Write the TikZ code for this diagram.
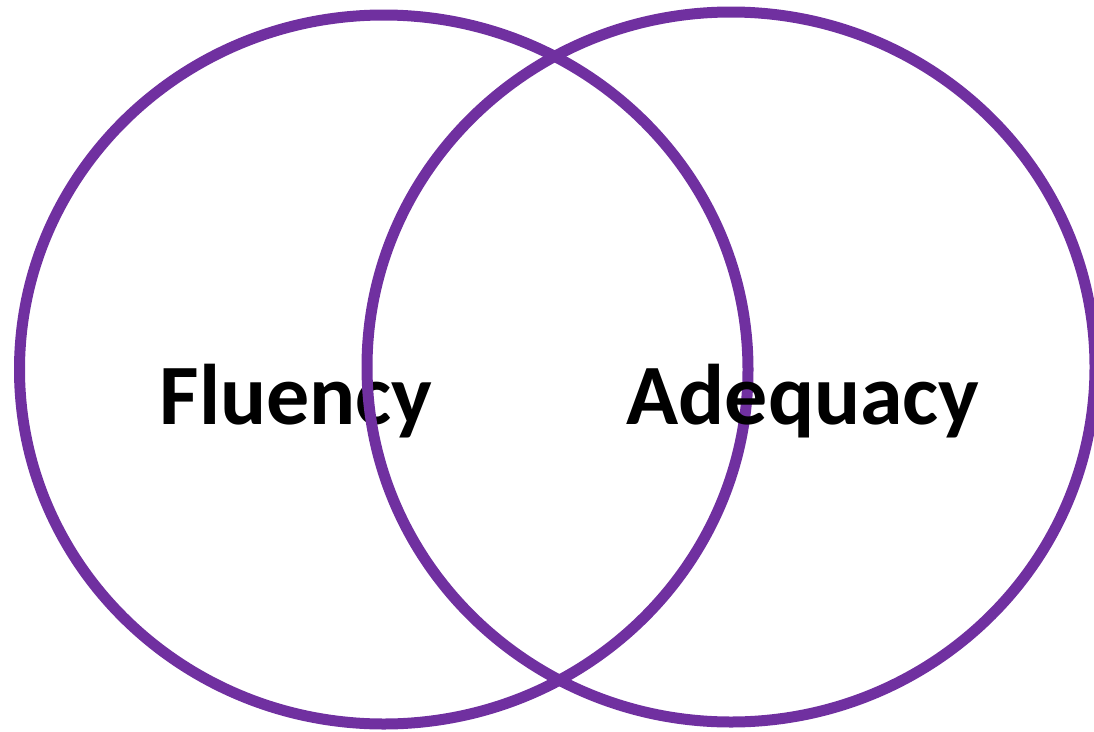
\documentclass[tikz,border=0pt]{standalone}
\usepackage{fontspec}
\setmainfont{Carlito}
\definecolor{vpurple}{HTML}{7030A0}
\begin{document}
\begin{tikzpicture}[x=1pt,y=-1pt,
  ring/.style={draw=vpurple,line width=11pt},
  label/.style={font=\bfseries\fontsize{86}{90}\selectfont,inner sep=0pt,anchor=base,text=black}]
\useasboundingbox (0,0) rectangle (1094,731);
\draw[ring] (383.75,369.5) ellipse [x radius=364.25, y radius=354.5];
\node[label] (fluency) at (296,424) {Fluency};
\draw[ring] (731,367) ellipse [x radius=364, y radius=355];
\node[label] (adequacy) at (803,424) {Adequacy};
\end{tikzpicture}
\end{document}
